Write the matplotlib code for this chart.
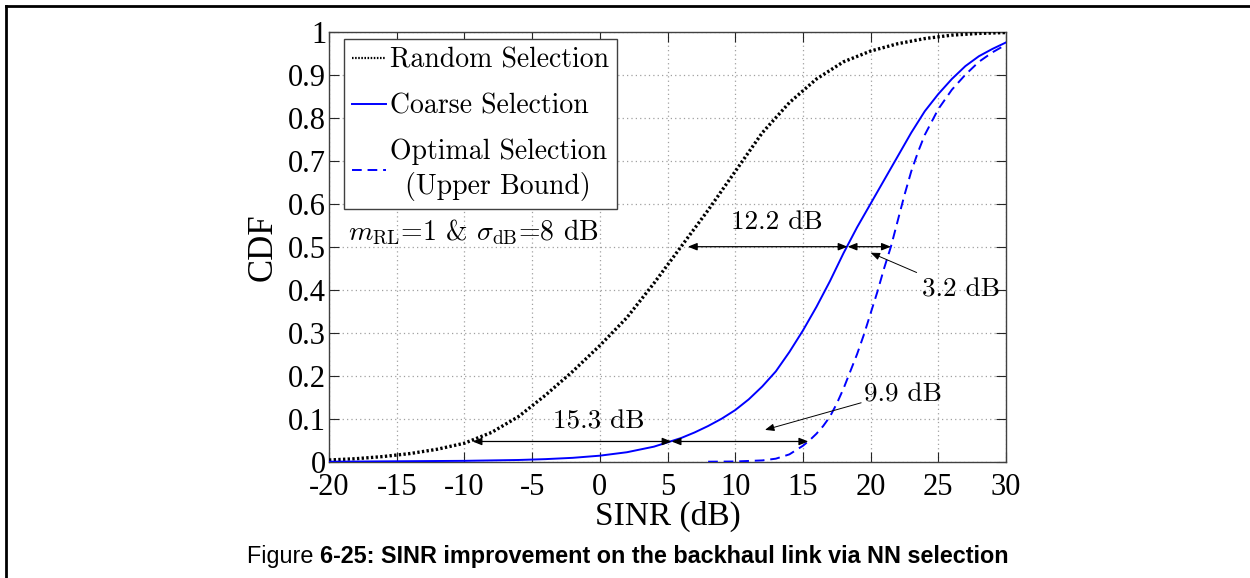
import matplotlib
matplotlib.use("Agg")
import matplotlib.pyplot as plt
from matplotlib.lines import Line2D

plt.rcParams['mathtext.fontset'] = 'cm'

# ---------------- data ----------------
rand_x = [-20, -18, -16, -14, -12, -10, -8, -6, -4, -2, 0, 2, 4, 6, 8, 10,
          12, 14, 16, 18, 20, 22, 24, 26, 28, 30]
rand_y = [0.004, 0.007, 0.012, 0.019, 0.029, 0.043, 0.068, 0.105, 0.155, 0.21,
          0.27, 0.335, 0.415, 0.5, 0.585, 0.675, 0.765, 0.835, 0.89, 0.93,
          0.955, 0.972, 0.984, 0.992, 0.996, 0.998]

coarse_x = [-20, -15, -10, -6, -4, -2, 0, 2, 4, 5, 6, 7, 8, 9, 10, 11, 12, 13,
            14, 15, 16, 17, 18, 19, 20, 21, 22, 23, 24, 25, 26, 27, 28, 29, 30]
coarse_y = [0.0, 0.001, 0.002, 0.004, 0.006, 0.009, 0.014, 0.022, 0.035, 0.045,
            0.055, 0.068, 0.083, 0.1, 0.12, 0.145, 0.175, 0.21, 0.255, 0.305,
            0.36, 0.42, 0.485, 0.545, 0.6, 0.655, 0.71, 0.765, 0.815, 0.855,
            0.89, 0.92, 0.943, 0.96, 0.975]

opt_x = [8, 10, 12, 13, 14, 15, 15.5, 16, 16.5, 17, 17.5, 18, 18.5, 19, 19.5,
         20, 20.5, 21, 21.5, 22, 22.5, 23, 23.5, 24, 25, 26, 27, 28, 29, 30]
opt_y = [0.0, 0.0005, 0.003, 0.007, 0.017, 0.037, 0.05, 0.065, 0.083, 0.105,
         0.135, 0.17, 0.21, 0.25, 0.295, 0.345, 0.395, 0.45, 0.5, 0.56, 0.62,
         0.675, 0.72, 0.76, 0.82, 0.865, 0.9, 0.93, 0.952, 0.97]

series_labels = ["Random Selection", "Coarse Selection",
                 "Optimal Selection\n(Upper Bound)"]

x_ticks = [-20, -15, -10, -5, 0, 5, 10, 15, 20, 25, 30]
x_ticklabels = ["-20", "-15", "-10", "-5", "0", "5", "10", "15", "20", "25", "30"]
y_ticks = [0, 0.1, 0.2, 0.3, 0.4, 0.5, 0.6, 0.7, 0.8, 0.9, 1.0]
y_ticklabels = ["0", "0.1", "0.2", "0.3", "0.4", "0.5", "0.6", "0.7", "0.8", "0.9", "1"]

# double arrows: (x_start, x_end, y)
double_arrows = [(6.5, 18.3, 0.5), (18.3, 21.5, 0.5),
                 (-9.4, 5.3, 0.047), (5.3, 15.4, 0.047)]
# single arrows: (x_tail, y_tail, x_tip, y_tip)
single_arrows = [(23.4, 0.44, 20.0, 0.486), (19.3, 0.137, 12.2, 0.074)]
labels_txt = [("12.2 dB", 13.1, 0.557), ("3.2 dB", 26.7, 0.40),
              ("9.9 dB", 22.4, 0.155), ("15.3 dB", -0.1, 0.093)]

# ---------------- figure ----------------
fig = plt.figure(figsize=(12.5, 5.78), dpi=100)
ax = fig.add_axes([329/1250, 1-461.7/578, 677/1250, 430/578])

ax.plot(rand_x, rand_y, color='black', lw=2.4, dashes=(0.7, 0.7),
        label=series_labels[0], zorder=3)
ax.plot(coarse_x, coarse_y, color='blue', lw=1.4, label=series_labels[1], zorder=3)
ax.plot(opt_x, opt_y, color='blue', lw=1.4, dashes=(5, 3),
        label=series_labels[2], zorder=3)

ax.set_xlim(-20, 30)
ax.set_ylim(0, 1)
ax.set_xticks(x_ticks)
ax.set_xticklabels(x_ticklabels)
ax.set_yticks(y_ticks)
ax.set_yticklabels(y_ticklabels)
for lab in ax.get_xticklabels() + ax.get_yticklabels():
    lab.set_fontfamily('Liberation Serif')
    lab.set_fontsize(22)
ax.tick_params(direction='in', length=7, width=0.8, colors='#262626',
               top=True, right=True, pad=2, labelcolor='black')
ax.tick_params(axis='x', pad=8)
for sp in ax.spines.values():
    sp.set_color('#404040')
    sp.set_linewidth(1.0)
ax.grid(True, color='#a0a0a0', linestyle=(0, (1, 2.5)), linewidth=0.9)
ax.set_axisbelow(True)

ax.set_xlabel("SINR (dB)", fontfamily='Liberation Serif', fontsize=24, labelpad=-1)
ax.set_ylabel("CDF", fontfamily='Liberation Serif', fontsize=25, labelpad=6)

leg = ax.legend(loc='upper left', bbox_to_anchor=(0.022, 0.983), borderaxespad=0,
                prop=dict(family='cmr10', size=20), handlelength=1.2,
                handletextpad=0.15, borderpad=0.3, labelspacing=0.7,
                fancybox=False, framealpha=1, edgecolor='#404040')
leg.get_frame().set_linewidth(1.0)
for t in leg.get_texts():
    t.set_multialignment('center')
    t.set_linespacing(1.3)
leg.get_lines()[0].set_linewidth(1.6)

ax.text(-18.6, 0.532, r"$m_{\rm RL}$=1 & $\sigma_{\rm dB}$=8 dB",
        fontfamily='cmr10', fontsize=20, va='center', ha='left')

for x0, x1, y in double_arrows:
    ax.annotate('', xy=(x1, y), xytext=(x0, y),
                arrowprops=dict(arrowstyle='<|-|>,head_length=0.55,head_width=0.22',
                                color='black', lw=0.9, shrinkA=0, shrinkB=0))
for xt, yt, xh, yh in single_arrows:
    ax.annotate('', xy=(xh, yh), xytext=(xt, yt),
                arrowprops=dict(arrowstyle='-|>,head_length=0.55,head_width=0.22',
                                color='black', lw=0.7, shrinkA=0, shrinkB=0))
for s, x, y in labels_txt:
    ax.text(x, y, s, fontfamily='cmr10', fontsize=19.5, ha='center', va='center')

# caption
cap1 = fig.text(247/1250, 1-556/578, "Figure ", fontfamily='Liberation Sans',
                fontsize=16.8, ha='left', va='center')
fig.canvas.draw()
bb = cap1.get_window_extent()
fig.text(bb.x1/1250, 1-556/578, "6-25: SINR improvement on the backhaul link via NN selection",
         fontfamily='Liberation Sans', fontweight='bold', fontsize=16.8,
         ha='left', va='center')

# outer frame
fig.add_artist(Line2D([6/1250, 6/1250], [0, 1-6/578], transform=fig.transFigure,
                      color='black', lw=2))
fig.add_artist(Line2D([6/1250, 1], [1-6/578, 1-6/578], transform=fig.transFigure,
                      color='black', lw=2))

fig.savefig("out.png", dpi=100)
